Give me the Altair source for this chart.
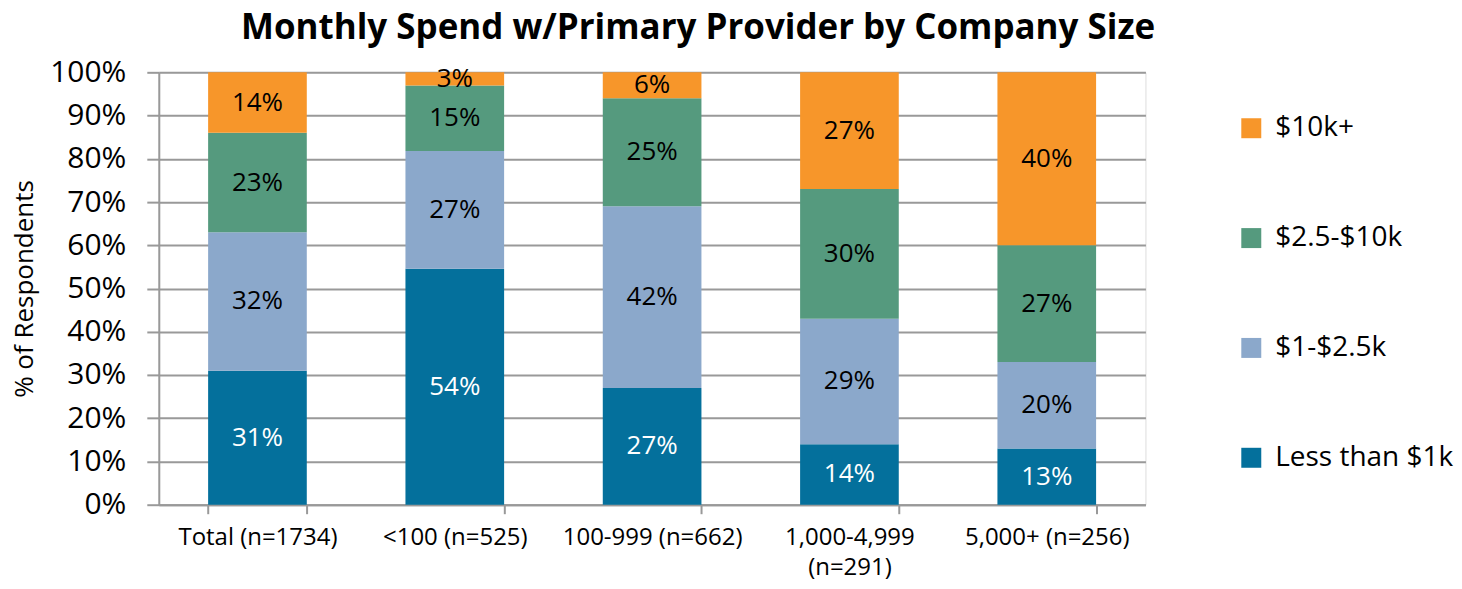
import altair as alt
import pandas as pd

categories = ["Total (n=1734)", "<100 (n=525)", "100-999 (n=662)", "1,000-4,999 (n=291)", "5,000+ (n=256)"]
segments = ["Less than $1k", "$1-$2.5k", "$2.5-$10k", "$10k+"]
colors = ["#04709C", "#8BA8CB", "#559A7E", "#F7962A"]
less_1k = [31, 54, 27, 14, 13]
k1_2_5 = [32, 27, 42, 29, 20]
k2_5_10 = [23, 15, 25, 30, 27]
k10_plus = [14, 3, 6, 27, 40]

rows = []
series = [less_1k, k1_2_5, k2_5_10, k10_plus]
for si, (seg, vals) in enumerate(zip(segments, series)):
    for ci, cat in enumerate(categories):
        rows.append({"category": cat, "segment": seg, "value": vals[ci], "rank": si})
df = pd.DataFrame(rows)

FONT = "Open Sans"

base = alt.Chart(df).transform_joinaggregate(
    total="sum(value)", groupby=["category"]
).transform_calculate(
    pct="datum.value / datum.total"
).transform_stack(
    stack="pct", groupby=["category"], as_=["y0", "y1"], sort=[alt.SortField("rank", order="ascending")]
).transform_calculate(
    mid="(datum.y0 + datum.y1) / 2",
    label="datum.value + '%'"
)

x_enc = alt.X(
    "category:N", sort=categories, title=None,
    scale=alt.Scale(paddingInner=0.5, paddingOuter=0.25),
    axis=alt.Axis(
        labelAngle=0, labelFontSize=24, labelFont=FONT, labelColor="#000000",
        labelPadding=12, tickBand="extent", tickSize=9, tickColor="#999999",
        tickWidth=2, domainColor="#999999", domainWidth=2, grid=False,
        labelLimit=400,
        labelExpr="datum.value == '1,000-4,999 (n=291)' ? ['1,000-4,999', '(n=291)'] : datum.value",
        labelLineHeight=30,
    ),
)

bars = base.mark_bar().encode(
    x=x_enc,
    y=alt.Y(
        "y0:Q", title="% of Respondents",
        scale=alt.Scale(domain=[0, 1], nice=False),
        axis=alt.Axis(
            format=".0%", values=[i / 10 for i in range(11)], labelFontSize=30,
            labelFont=FONT, labelColor="#000000", titleFont=FONT, titleFontSize=26,
            titleFontWeight="normal", titleColor="#000000", titlePadding=12,
            tickSize=12, tickColor="#999999", tickWidth=2, domainColor="#999999",
            domainWidth=2, gridColor="#999999", gridWidth=2, labelPadding=21,
        ),
    ),
    y2="y1:Q",
    color=alt.Color(
        "segment:N",
        scale=alt.Scale(domain=segments, range=colors),
        sort=list(reversed(segments)),
        legend=alt.Legend(
            title=None, orient="none", legendX=1080, legendY=42,
            symbolType="square", symbolSize=400, symbolStrokeWidth=0,
            labelFontSize=28, labelFont=FONT, labelColor="#000000",
            rowPadding=82, labelOffset=10, padding=0, labelLimit=400,
            values=list(reversed(segments)),
        ),
    ),
    order=alt.Order("rank:Q"),
)

texts = base.mark_text(font=FONT, fontSize=26).encode(
    x=alt.X("category:N", sort=categories),
    y=alt.Y("mid:Q"),
    text="label:N",
    color=alt.condition(
        "datum.segment == 'Less than $1k'", alt.value("#ffffff"), alt.value("#000000")
    ),
)

chart = alt.layer(bars, texts).properties(
    width=988, height=433,
    padding={"left": 3, "top": 3, "right": 0, "bottom": 5},
    title=alt.TitleParams(
        "Monthly Spend w/Primary Provider by Company Size",
        font=FONT, fontSize=35, fontWeight="bold", color="#000000",
        anchor="middle", dx=46, offset=11,
    ),
).configure_view(stroke=None).configure(background="#ffffff")

chart.save("out.html", embed_options={"renderer": "svg", "actions": False})
